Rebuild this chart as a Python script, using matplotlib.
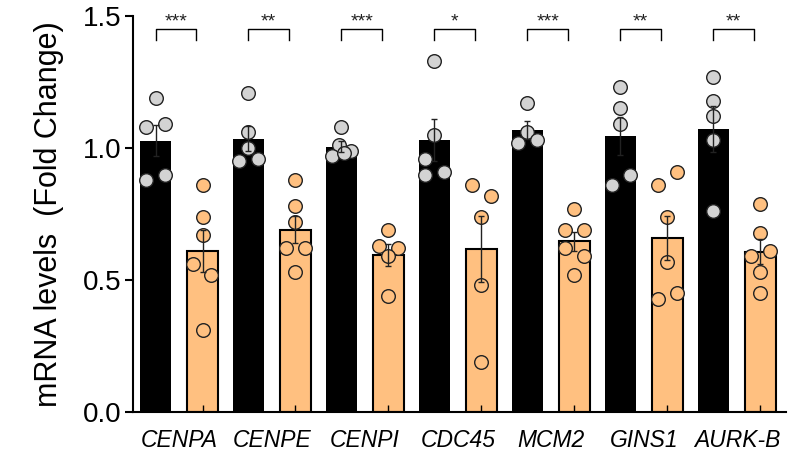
import numpy as np
import matplotlib
matplotlib.use("Agg")
import matplotlib.pyplot as plt

plt.rcParams['font.family'] = ['Liberation Sans', 'DejaVu Sans']

genes = ["CENPA", "CENPE", "CENPI", "CDC45", "MCM2", "GINS1", "AURK-B"]

control = [
    [1.19, 1.08, 1.09, 0.88, 0.90],
    [1.21, 1.06, 1.00, 0.95, 0.96],
    [1.08, 1.01, 0.99, 0.97, 0.98],
    [1.33, 1.05, 0.96, 0.90, 0.91],
    [1.17, 1.06, 1.02, 1.03],
    [1.23, 1.15, 1.09, 0.90, 0.86],
    [1.27, 1.18, 1.12, 1.03, 0.76],
]
treated = [
    [0.86, 0.74, 0.67, 0.56, 0.52, 0.31],
    [0.88, 0.78, 0.72, 0.62, 0.62, 0.53],
    [0.69, 0.63, 0.62, 0.59, 0.44],
    [0.86, 0.82, 0.74, 0.48, 0.19],
    [0.77, 0.69, 0.69, 0.62, 0.59, 0.52],
    [0.91, 0.86, 0.74, 0.57, 0.45, 0.43],
    [0.79, 0.68, 0.59, 0.61, 0.53, 0.45],
]
stars = ["***", "**", "***", "*", "***", "**", "**"]

# horizontal jitter of the dots (in units of one dot step)
jit_c = [
    [0, -1, 1, -1, 1],
    [0, 0, 0, -1, 1],
    [0, -0.33, 1, -1, 0.33],
    [0, 0, -1, -1, 1],
    [0, 0, -1, 1],
    [0, 0, 0, 1, -0.9],
    [0, 0, 0, 0, 0],
]
jit_t = [
    [0, 0, 0, -1, 0.9, 0],
    [0, 0, 0, -1, 1, 0],
    [0, -1, 1, 0, 0],
    [-1, 1, 0, 0, 0],
    [0, -1, 1, -1, 1, 0],
    [1, -1, 0, 0, 1, -1],
    [0, 0, -1, 1, 0, 0],
]

BLACK = "#000000"
ORANGE = "#ffc080"
GRAY = "#d3d3d3"
EDGE = "#222222"

step = 0.097
offset = 47 / 93
width = 0.33

fig = plt.figure(figsize=(8.08, 4.62), dpi=100)
ax = fig.add_axes([0.1646, 0.1076, 0.8082, 0.8578])

x = np.arange(len(genes))
cm = [np.mean(v) for v in control]
tm = [np.mean(v) for v in treated]
cs = [np.std(v, ddof=1) / np.sqrt(len(v)) for v in control]
ts = [np.std(v, ddof=1) / np.sqrt(len(v)) for v in treated]

ax.bar(x, cm, width=width, color=BLACK, zorder=1)
ax.bar(x + offset, tm, width=width, color=ORANGE, edgecolor="black",
       linewidth=1.5, zorder=1)

for i in range(len(genes)):
    xs = x[i] + step * np.array(jit_c[i])
    ax.plot(xs, control[i], 'o', ms=9.8, mfc=GRAY, mec=EDGE, mew=1.0,
            zorder=2, clip_on=False)
    xs = x[i] + offset + step * np.array(jit_t[i])
    ax.plot(xs, treated[i], 'o', ms=9.8, mfc=ORANGE, mec=EDGE, mew=1.0,
            zorder=2, clip_on=False)

ax.errorbar(x, cm, yerr=cs, fmt='none', ecolor="#222222", elinewidth=1.0,
            capsize=2.5, capthick=1.0, zorder=3)
ax.errorbar(x + offset, tm, yerr=ts, fmt='none', ecolor="#222222",
            elinewidth=1.0, capsize=2.5, capthick=1.0, zorder=3)

# significance brackets
for i, s in enumerate(stars):
    x0 = x[i]
    x1 = x[i] + 0.435
    ax.plot([x0, x0, x1, x1], [1.41, 1.45, 1.45, 1.41], color="black",
            lw=1.0, clip_on=False, zorder=4)
    ax.text((x0 + x1) / 2, 1.478, s, ha="center", va="center",
            fontsize=14, color="#222222", clip_on=False)

ax.set_xlim(-0.242, 6.78)
ax.set_ylim(0, 1.5)
ax.set_yticks([0.0, 0.5, 1.0, 1.5])
ax.set_yticklabels(["0.0", "0.5", "1.0", "1.5"])
ax.set_xticks(x + offset / 2)
ax.set_xticklabels(genes, fontstyle="italic", fontsize=16.5)
ax.set_xticks(np.concatenate([x, x + offset]), minor=True)
ax.tick_params(axis="x", which="major", length=0, pad=12)
ax.tick_params(axis="x", which="minor", length=5, direction="in", width=1.0)
ax.tick_params(axis="y", length=6, width=1.5, labelsize=20, pad=2)

ax.spines["top"].set_visible(False)
ax.spines["right"].set_visible(False)
ax.spines["left"].set_linewidth(1.5)
ax.spines["bottom"].set_linewidth(1.5)

ax.set_ylabel("mRNA levels  (Fold Change)", fontsize=22, labelpad=14)

fig.savefig("out.png", dpi=100)
